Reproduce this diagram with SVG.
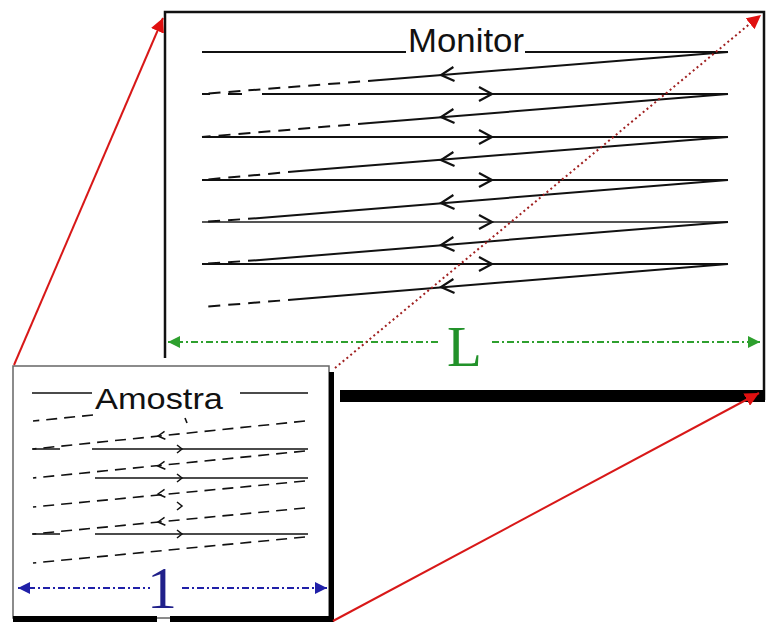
<svg xmlns="http://www.w3.org/2000/svg" xmlns:xlink="http://www.w3.org/1999/xlink" width="768" height="624" viewBox="0 0 768 624">
<style>
.scan{stroke:#111;stroke-width:2;fill:none}
.scanl{stroke:#111;stroke-width:1.6;fill:none}
.dash{stroke:#111;stroke-width:2;fill:none;stroke-dasharray:12 8}
.dashs{stroke:#111;stroke-width:1.6;fill:none;stroke-dasharray:11 7}
.chev{stroke:#111;stroke-width:2.2;fill:none}
.chevs{stroke:#111;stroke-width:1.5;fill:none}
.red{stroke:#d81818;stroke-width:2;fill:none}
.reddot{stroke:#a02020;stroke-width:2;fill:none;stroke-dasharray:2 3}
.green{stroke:#2ea02e;stroke-width:2;fill:none;stroke-dasharray:7 3 2 3}
.blue{stroke:#2020a8;stroke-width:2;fill:none;stroke-dasharray:7 3 2 3}
.title{font-family:"Liberation Sans",Arial,sans-serif;fill:#111}
</style>
<defs>
<marker id="ahRed" markerUnits="userSpaceOnUse" markerWidth="16" markerHeight="14" refX="14" refY="7" orient="auto"><path d="M0,0 L14,7 L0,14 z" fill="#e01010"/></marker>
<marker id="ahGreen" markerUnits="userSpaceOnUse" markerWidth="14" markerHeight="12" refX="12" refY="6" orient="auto"><path d="M0,0 L12,6 L0,12 z" fill="#2ea02e"/></marker>
<marker id="ahBlue" markerUnits="userSpaceOnUse" markerWidth="14" markerHeight="12" refX="12" refY="6" orient="auto"><path d="M0,0 L12,6 L0,12 z" fill="#2020a8"/></marker>
<path id="chevL" d="M13,-7 L0,0 L13,7"/>
<path id="chevR" d="M-13,-7 L0,0 L-13,7"/>
<path id="chevLs" d="M7,-4 L0,0 L7,4"/>
<path id="chevRs" d="M-5,-4 L0,0 L-5,4"/>
</defs>
<rect width="768" height="624" fill="#fff"/>

<g id="monitor">
  <path d="M165,358 L165,12 L764,12 L764,400" fill="none" stroke="#111" stroke-width="2.5"/>
  <rect x="340" y="390" width="425" height="12" fill="#000"/>
  <text class="title" x="408" y="52" font-size="33" textLength="116" lengthAdjust="spacingAndGlyphs">Monitor</text>
  <path class="scan" d="M202,52 L406,52 M525,52 L728,52"/>
  <path class="scan" d="M262,94 L728,94 M202,94 L210,94 M228,94 L242,94"/>
  <path class="scan" d="M202,137 L728,137"/>
  <path class="scan" d="M202,180 L728,180"/>
  <path stroke="#555" stroke-width="2" fill="none" d="M202,222 L728,222"/>
  <path class="scan" d="M202,264 L728,264"/>
  <path class="scan" d="M728,52 L380,80"/><path class="dash" d="M380,80 L202,94"/>
  <path class="scan" d="M728,94 L370,123"/><path class="dash" d="M370,123 L202,137"/>
  <path class="scan" d="M728,137 L300,171"/><path class="dash" d="M300,171 L202,180"/>
  <path class="scan" d="M728,180 L260,218"/><path class="dash" d="M260,218 L202,222"/>
  <path class="scan" d="M728,222 L260,260"/><path class="dash" d="M260,260 L202,264"/>
  <path class="scan" d="M728,264 L300,299"/><path class="dash" d="M300,299 L202,307"/>
  <g class="chev">
    <use xlink:href="#chevR" transform="translate(492,94)"/>
    <use xlink:href="#chevR" transform="translate(492,137)"/>
    <use xlink:href="#chevR" transform="translate(492,180)"/>
    <use xlink:href="#chevR" transform="translate(492,222)"/>
    <use xlink:href="#chevR" transform="translate(492,264)"/>
    <use xlink:href="#chevL" transform="translate(441,75) rotate(-4.6)"/>
    <use xlink:href="#chevL" transform="translate(441,117) rotate(-4.6)"/>
    <use xlink:href="#chevL" transform="translate(441,160) rotate(-4.6)"/>
    <use xlink:href="#chevL" transform="translate(441,203) rotate(-4.6)"/>
    <use xlink:href="#chevL" transform="translate(441,245) rotate(-4.6)"/>
    <use xlink:href="#chevL" transform="translate(441,287) rotate(-4.6)"/>
  </g>
  <path class="green" d="M176,342 L440,342 M492,342 L750,342"/>
  <path stroke="#2ea02e" stroke-width="2" fill="none" d="M178,342 L168,342" marker-end="url(#ahGreen)"/>
  <path stroke="#2ea02e" stroke-width="2" fill="none" d="M748,342 L760,342" marker-end="url(#ahGreen)"/>
  <text x="447" y="366" font-family="'Liberation Serif','Times New Roman',serif" font-size="57" fill="#22922a">L</text>
</g>

<g id="amostra">
  <rect x="13" y="366" width="316" height="252" fill="#fff" stroke="#666" stroke-width="1.5"/>
  <rect x="329" y="372" width="5" height="250" fill="#000"/>
  <rect x="13" y="616" width="144" height="6" fill="#000"/>
  <rect x="170" y="616" width="164" height="6" fill="#000"/>
  <text class="title" x="95" y="409" font-size="30" textLength="128" lengthAdjust="spacingAndGlyphs">Amostra</text>
  <path class="scanl" d="M32,393 L92,393 M240,393 L308,393"/>
  <path class="scanl" d="M92,449 L308,449 M32,449 L60,449"/>
  <path class="scanl" d="M95,478 L308,478"/>
  <path class="scanl" d="M95,534 L308,534 M32,534 L60,534"/>
  <path class="dashs" d="M93,415 L33,421"/>
  <path class="scanl" d="M185,418 L187,423"/>
  <path class="dashs" d="M305,421 L33,449"/>
  <path class="dashs" d="M305,451 L33,478"/>
  <path class="dashs" d="M305,481 L33,507"/>
  <path class="dashs" d="M305,508 L33,534"/>
  <path class="dashs" d="M305,537 L33,563"/>
  <g class="chevs">
    <use xlink:href="#chevLs" transform="translate(158,436) rotate(-5.8)"/>
    <use xlink:href="#chevLs" transform="translate(158,466) rotate(-5.8)"/>
    <use xlink:href="#chevLs" transform="translate(158,494) rotate(-5.8)"/>
    <use xlink:href="#chevLs" transform="translate(158,522) rotate(-5.8)"/>
    <use xlink:href="#chevRs" transform="translate(182,449)"/>
    <use xlink:href="#chevRs" transform="translate(182,478)"/>
    <use xlink:href="#chevRs" transform="translate(182,506)"/>
    <use xlink:href="#chevRs" transform="translate(182,534)"/>
  </g>
  <path class="blue" d="M28,588 L150,588 M182,588 L316,588"/>
  <path stroke="#2020a8" stroke-width="2" fill="none" d="M30,588 L18,588" marker-end="url(#ahBlue)"/>
  <path stroke="#2020a8" stroke-width="2" fill="none" d="M315,588 L327,588" marker-end="url(#ahBlue)"/>
  <text x="162" y="608" text-anchor="middle" font-family="'Liberation Serif','Times New Roman',serif" font-size="60" fill="#20208a">1</text>
</g>

<g id="connectors">
  <path class="red" d="M14,365 L163,18" marker-end="url(#ahRed)"/>
  <path class="red" d="M333,621 L759,393" marker-end="url(#ahRed)"/>
  <path class="reddot" d="M335,368 L752,22"/>
  <path class="red" stroke-width="1" stroke-opacity="0" d="M740,32 L761,15" marker-end="url(#ahRed)"/>
</g>
</svg>
